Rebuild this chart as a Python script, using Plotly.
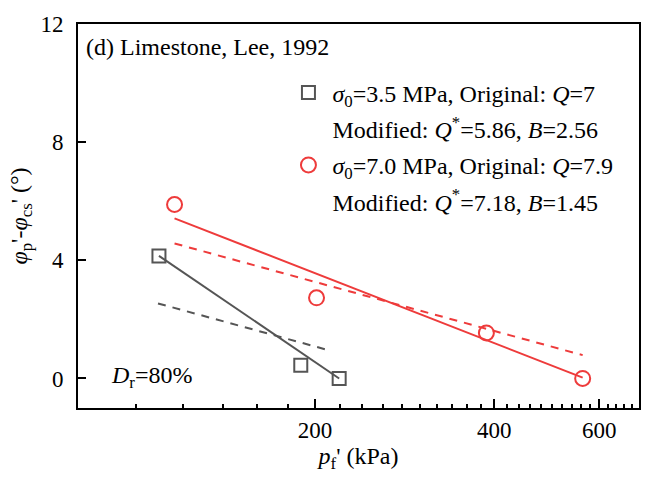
import plotly.graph_objects as go
import math

# Data
sq_x = [109.4, 189.3, 219.6]          # sigma0 = 3.5 MPa, p_f' (kPa)
sq_y = [4.15, 0.45, 0.0]
ci_x = [116.2, 201.2, 388.0, 563.0]   # sigma0 = 7.0 MPa
ci_y = [5.89, 2.73, 1.54, 0.0]

# fitted lines (end points)
sq_mod_x = [109.4, 219.6]; sq_mod_y = [4.15, 0.0]      # modified (solid)
sq_org_x = [109.0, 213.2]; sq_org_y = [2.54, 0.93]     # original (dashed)
ci_mod_x = [116.2, 563.0]; ci_mod_y = [5.42, 0.03]
ci_org_x = [116.2, 563.0]; ci_org_y = [4.57, 0.79]

x_ticks = [200, 400, 600]
x_minor = [v for v in range(100, 701, 20) if v not in x_ticks]
y_ticks = [0, 4, 8, 12]

GREY = "#555555"
RED = "#EE3B3B"
FONT = "Liberation Serif, Times New Roman, Times, serif"
TXT = 24
TICK = 23

fig = go.Figure()
fig.add_trace(go.Scatter(x=sq_mod_x, y=sq_mod_y, mode="lines", line=dict(color=GREY, width=2), showlegend=False))
fig.add_trace(go.Scatter(x=sq_org_x, y=sq_org_y, mode="lines", line=dict(color=GREY, width=2, dash="8px,7px"), showlegend=False))
fig.add_trace(go.Scatter(x=ci_mod_x, y=ci_mod_y, mode="lines", line=dict(color=RED, width=2), showlegend=False))
fig.add_trace(go.Scatter(x=ci_org_x, y=ci_org_y, mode="lines", line=dict(color=RED, width=2, dash="8px,7px"), showlegend=False))

fig.add_trace(go.Scatter(x=sq_x, y=sq_y, mode="markers", legendgroup="g1",
                         marker=dict(symbol="square-open", size=13, color=GREY, line=dict(width=2, color=GREY)),
                         name="<i>σ</i><sub>0</sub>=3.5 MPa, Original: <i>Q</i>=7", legendrank=1))
fig.add_trace(go.Scatter(x=[None], y=[None], mode="markers", legendgroup="g2",
                         marker=dict(size=1, color="rgba(0,0,0,0)", line=dict(width=0)),
                         name="Modified: <i>Q</i><sup>*</sup>=5.86, <i>B</i>=2.56", legendrank=2))
fig.add_trace(go.Scatter(x=ci_x, y=ci_y, mode="markers", legendgroup="g3",
                         marker=dict(symbol="circle-open", size=15, color=RED, line=dict(width=2, color=RED)),
                         name="<i>σ</i><sub>0</sub>=7.0 MPa, Original: <i>Q</i>=7.9", legendrank=3))
fig.add_trace(go.Scatter(x=[None], y=[None], mode="markers", legendgroup="g4",
                         marker=dict(size=1, color="rgba(0,0,0,0)", line=dict(width=0)),
                         name="Modified: <i>Q</i><sup>*</sup>=7.18, <i>B</i>=1.45", legendrank=4))

fig.add_annotation(text="(d) Limestone, Lee, 1992", xref="paper", yref="paper", x=0.011, y=0.94,
                   xanchor="left", yanchor="middle", showarrow=False, font=dict(size=TXT, family=FONT, color="black"))
fig.add_annotation(text="<i>D</i><sub>r</sub>=80%", xref="paper", yref="paper", x=0.055, y=0.08,
                   xanchor="left", yanchor="middle", showarrow=False, font=dict(size=TXT, family=FONT, color="black"))

fig.update_layout(
    width=646, height=479,
    margin=dict(l=78, r=5, t=24, b=71),
    paper_bgcolor="white", plot_bgcolor="white",
    font=dict(family=FONT, size=TXT, color="black"),
    showlegend=True,
    legend=dict(x=0.368, y=0.879, xanchor="left", yanchor="top", bgcolor="rgba(0,0,0,0)",
                valign="top", font=dict(size=TXT, family=FONT), traceorder="grouped", tracegroupgap=2,
                itemwidth=38),
    xaxis=dict(type="log", range=[math.log10(80), math.log10(700)],
               tickmode="array", tickvals=x_ticks, ticktext=[str(v) for v in x_ticks],
               ticks="inside", ticklen=9, tickwidth=2, tickcolor="black",
               tickfont=dict(size=TICK, family=FONT),
               minor=dict(tickmode="array", tickvals=x_minor, ticks="inside", ticklen=4, tickwidth=1.5, tickcolor="black"),
               showline=True, linecolor="black", linewidth=2, mirror=True,
               showgrid=False, zeroline=False,
               title=dict(text="<i>p</i><sub>f</sub>' (kPa)", font=dict(size=TXT, family=FONT), standoff=6)),
    yaxis=dict(range=[-1, 12], tickmode="array", tickvals=y_ticks,
               ticks="inside", ticklen=8, tickwidth=1.5, tickcolor="black",
               tickfont=dict(size=TICK, family=FONT),
               showline=True, linecolor="black", linewidth=2, mirror=True,
               showgrid=False, zeroline=False, ticklabelstandoff=8,
               title=dict(text="<i>φ</i><sub>p</sub>'-<i>φ</i><sub>cs</sub>' (°)", font=dict(size=TXT, family=FONT), standoff=6)),
)

fig.write_html("out.html")
